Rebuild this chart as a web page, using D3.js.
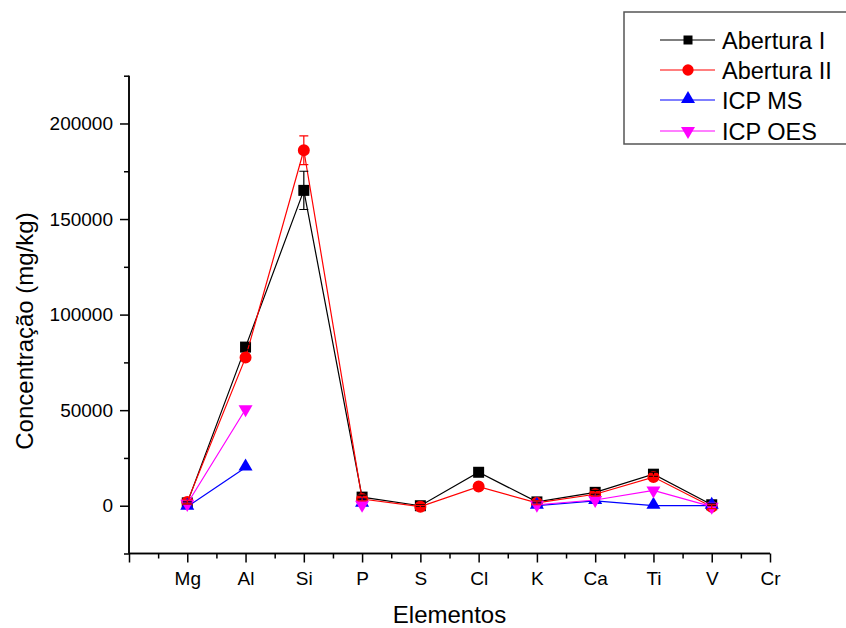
<!DOCTYPE html>
<html><head><meta charset="utf-8">
<script src="https://cdn.jsdelivr.net/npm/d3@7"></script>
<style>body{margin:0;background:#fff}svg{display:block;font-family:Arial,"Liberation Sans",sans-serif}</style>
</head><body><svg id="c" width="846" height="628"></svg>
<script>
const categories = ["Mg","Al","Si","P","S","Cl","K","Ca","Ti","V","Cr"];
const aberturaI   = [1500, 83000, 165000, 4500, 0, 17500, 2000, 7000, 16500, 500];
const aberturaIErr= [500, 1500, 10000, 1000, 500, 500, 500, 1000, 1000, 500];
const aberturaII  = [2000, 77500, 186000, 3500, -500, 10000, 1500, 6000, 15000, -500];
const aberturaIIErr=[1000, 1000, 7500, 1000, 500, 500, 1000, 1000, 1000, 1000];
const icpMS  = [-500, 20000, null, 1000, null, null, 0, 2500, 0, 0];
const icpOES = [1000, 50500, null, 500, null, null, 500, 3000, 8000, -500];
const yTicks = [0, 50000, 100000, 150000, 200000];
const seriesNames = ["Abertura I","Abertura II","ICP MS","ICP OES"];

const series = [
  {name: seriesNames[0], vals: aberturaI, err: aberturaIErr, color: "#000000", sym: "square"},
  {name: seriesNames[1], vals: aberturaII, err: aberturaIIErr, color: "#ff0000", sym: "circle"},
  {name: seriesNames[2], vals: icpMS, err: null, color: "#0000ff", sym: "up"},
  {name: seriesNames[3], vals: icpOES, err: null, color: "#ff00ff", sym: "down"}
];

const svg = d3.select("#c");
const x = d3.scaleLinear().domain([0, 11]).range([129, 770]);
const y = d3.scaleLinear().domain([-25000, 225000]).range([553.5, 75.7]);

// axes
const xMinor = d3.range(0, 11.01, 0.5);
const gx = svg.append("g").attr("transform", `translate(0,${y(-25000)})`);
gx.call(d3.axisBottom(x).tickValues(xMinor.filter(v => v % 1 !== 0)).tickSize(5).tickFormat(""));
gx.append("g").call(d3.axisBottom(x).tickValues(d3.range(0, 12)).tickSize(9)
  .tickFormat(i => i >= 1 ? categories[i-1] : ""));
gx.selectAll(".domain").attr("stroke-width", 1.5).attr("d", `M${x(0)},0H${x(11)}`);
gx.selectAll(".tick line").attr("stroke-width", 1.5);
gx.selectAll(".tick text").attr("font-size", 19).attr("fill", "#000").attr("dy", "1.05em")
  .attr("font-family", "Arial, Liberation Sans, sans-serif");

const gy = svg.append("g").attr("transform", `translate(${x(0)},0)`);
gy.call(d3.axisLeft(y).tickValues(d3.range(-25000, 225001, 50000)).tickSize(5).tickFormat(""));
gy.append("g").call(d3.axisLeft(y).tickValues(yTicks).tickSize(9).tickFormat(d3.format("d")));
gy.selectAll(".domain").attr("stroke-width", 1.5).attr("d", `M0,${y(-25000)}V${y(225000)}`);
gy.selectAll(".tick line").attr("stroke-width", 1.5);
gy.selectAll(".tick text").attr("font-size", 19).attr("fill", "#000").attr("x", -16)
  .attr("font-family", "Arial, Liberation Sans, sans-serif");

// axis titles
svg.append("text").attr("x", 449.5).attr("y", 623).attr("text-anchor", "middle")
  .attr("font-size", 24).text("Elementos");
svg.append("text").attr("transform", "translate(33,331) rotate(-90)").attr("text-anchor", "middle")
  .attr("font-size", 24).text("Concentração (mg/kg)");

function symPath(s) {
  if (s === "square") return d3.symbol(d3.symbolSquare, 121)();
  if (s === "circle") return d3.symbol(d3.symbolCircle, 113)();
  return d3.symbol(d3.symbolTriangle, 85)();
}
function symTransform(s, px, py) {
  if (s === "down") return `translate(${px},${py}) rotate(180)`;
  if (s === "up") return `translate(${px},${py - 1})`;
  return `translate(${px},${py})`;
}

const line = d3.line().defined(d => d.v !== null).x(d => x(d.i + 1)).y(d => y(d.v));
series.forEach(s => {
  const pts = s.vals.map((v, i) => ({v, i}));
  svg.append("path").datum(pts).attr("d", line).attr("fill", "none")
    .attr("stroke", s.color).attr("stroke-width", 1.2);
  svg.append("g").selectAll("path").data(pts.filter(d => d.v !== null)).join("path")
    .attr("d", symPath(s.sym)).attr("transform", d => symTransform(s.sym, x(d.i + 1), y(d.v)))
    .attr("fill", s.color);
});
// error bars
series.filter(s => s.err).forEach(s => {
  const g = svg.append("g").attr("stroke", s.color).attr("stroke-width", 1.2).attr("fill", "none");
  s.vals.forEach((v, i) => {
    const px = x(i + 1), e = s.err[i];
    g.append("path").attr("d",
      `M${px},${y(v - e)}V${y(v + e)}M${px - 4.5},${y(v + e)}H${px + 4.5}M${px - 4.5},${y(v - e)}H${px + 4.5}`);
  });
});

// legend
const lg = svg.append("g");
lg.append("rect").attr("x", 624).attr("y", 12).attr("width", 240).attr("height", 132)
  .attr("fill", "#fff").attr("stroke", "#555").attr("stroke-width", 1.5);
const rowsY = [40, 70, 100, 131];
series.forEach((s, k) => {
  const ry = rowsY[k];
  lg.append("line").attr("x1", 660).attr("x2", 715).attr("y1", ry).attr("y2", ry)
    .attr("stroke", s.color).attr("stroke-width", 1.2);
  const sz = s.sym === "square" ? 81 : s.sym === "circle" ? 100 : 85;
  const ty = s.sym === "square" ? d3.symbolSquare : s.sym === "circle" ? d3.symbolCircle : d3.symbolTriangle;
  lg.append("path").attr("d", d3.symbol(ty, sz)()).attr("fill", s.color)
    .attr("transform", symTransform(s.sym, 688, ry));
  lg.append("text").attr("x", 722).attr("y", ry + 8.5).attr("font-size", 23.5).text(s.name);
});
</script></body></html>
